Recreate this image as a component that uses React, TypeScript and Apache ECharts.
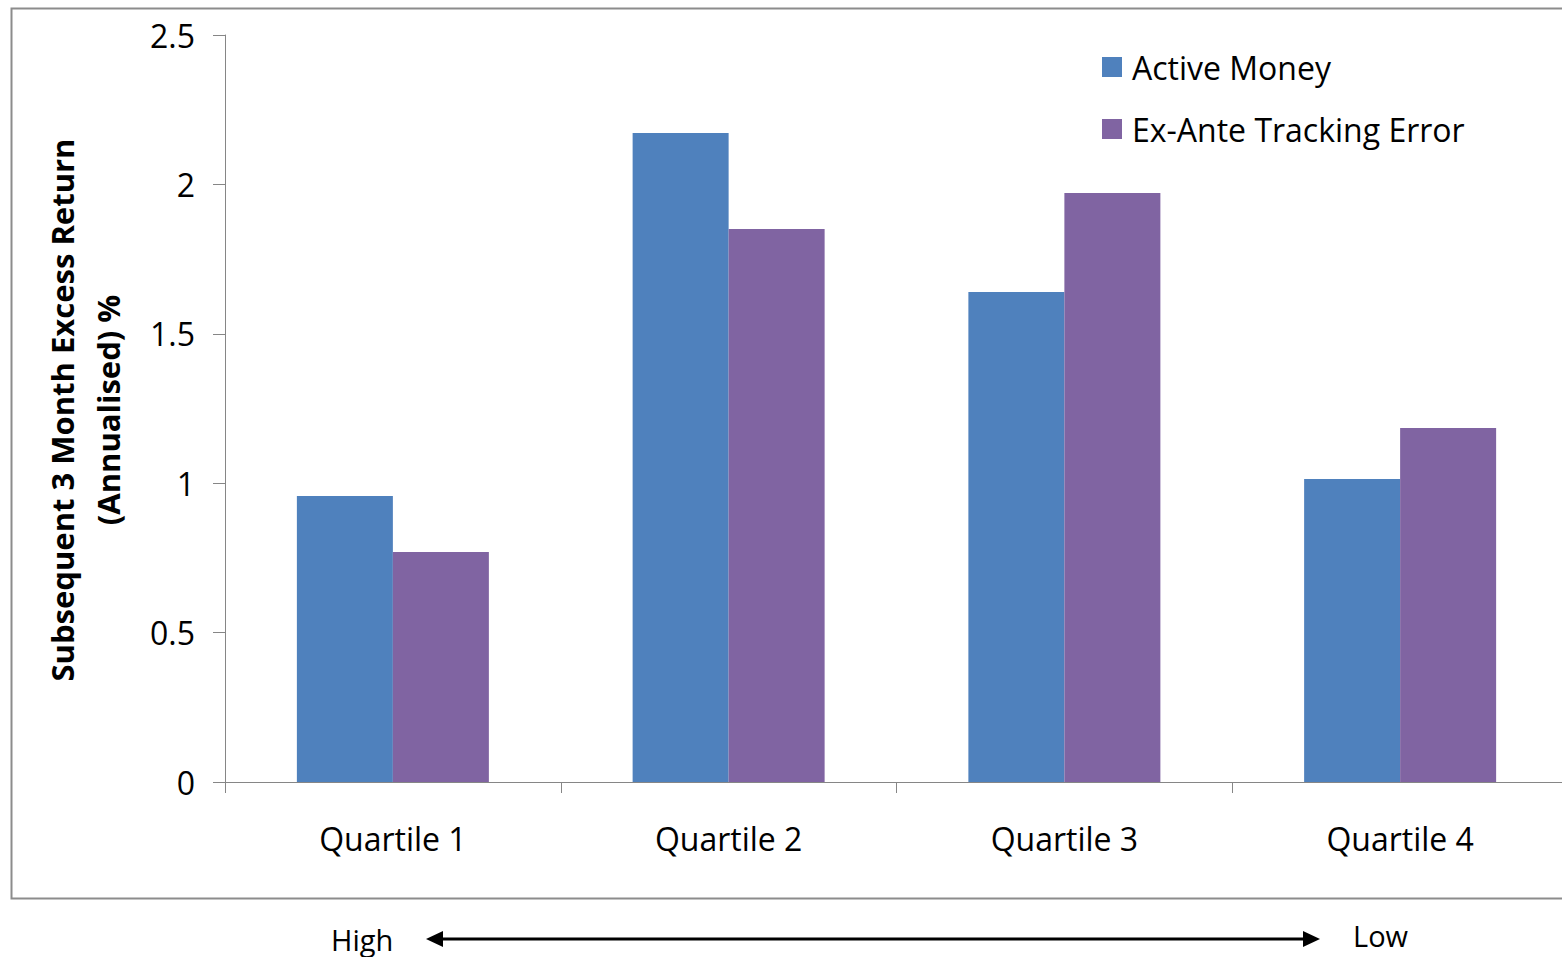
import React, { useEffect, useRef } from "react";
import * as echarts from "echarts";

const categories = ["Quartile 1", "Quartile 2", "Quartile 3", "Quartile 4"];
const activeMoney = [0.957, 2.172, 1.64, 1.014];
const exAnteTE = [0.77, 1.851, 1.971, 1.185];
const seriesNames = ["Active Money", "Ex-Ante Tracking Error"];
const yTitleLines = ["Subsequent 3 Month Excess Return", "(Annualised) %"];
const scaleLabels = ["High", "Low"];

const FONT = "'Open Sans', sans-serif";

export default function App() {
  const ref = useRef<HTMLDivElement>(null);
  useEffect(() => {
    if (!ref.current) return;
    const chart = echarts.init(ref.current, null, { renderer: "svg" });
    chart.setOption({
      animation: false,
      backgroundColor: "#ffffff",
      textStyle: { fontFamily: FONT },
      grid: { left: 225, top: 35, width: 1343, height: 747, containLabel: false },
      legend: {
        orient: "vertical",
        left: 1102,
        top: 51,
        padding: 0,
        itemWidth: 20,
        itemHeight: 20,
        itemGap: 30,
        icon: "rect",
        textStyle: { fontSize: 32, color: "#000", fontFamily: FONT, padding: [0, 0, 0, 5] },
        data: seriesNames,
      },
      xAxis: {
        type: "category",
        data: categories,
        boundaryGap: true,
        axisLine: { lineStyle: { color: "#868686", width: 1 } },
        axisTick: { show: true, length: 11, alignWithLabel: false, lineStyle: { color: "#868686" } },
        axisLabel: { color: "#000", fontSize: 32, margin: 40, fontFamily: FONT },
        splitLine: { show: false },
      },
      yAxis: {
        type: "value",
        min: 0,
        max: 2.5,
        interval: 0.5,
        axisLine: { show: true, lineStyle: { color: "#868686", width: 1 } },
        axisTick: { show: true, length: 12, inside: false, lineStyle: { color: "#868686" } },
        axisLabel: { color: "#000", fontSize: 32, margin: 30, fontFamily: FONT },
        splitLine: { show: false },
      },
      series: [
        {
          name: seriesNames[0],
          type: "bar",
          data: activeMoney,
          barWidth: 96,
          barGap: "0%",
          itemStyle: { color: "#4F81BD" },
        },
        {
          name: seriesNames[1],
          type: "bar",
          data: exAnteTE,
          barWidth: 96,
          barGap: "0%",
          itemStyle: { color: "#8064A2" },
        },
      ],
      graphic: [
        {
          type: "rect",
          silent: true,
          z: -10,
          shape: { x: 11.5, y: 8.5, width: 1600, height: 890 },
          style: { fill: "none", stroke: "#8c8c8c", lineWidth: 2 },
        },
        {
          type: "text",
          x: 85,
          y: 410,
          rotation: Math.PI / 2,
          style: {
            text: yTitleLines.join("\n"),
            font: `bold 31px ${FONT}`,
            fill: "#000",
            align: "center",
            verticalAlign: "middle",
            lineHeight: 46,
          },
        },
        {
          type: "line",
          shape: { x1: 438, y1: 939, x2: 1308, y2: 939 },
          style: { stroke: "#000", lineWidth: 3 },
        },
        {
          type: "polygon",
          shape: { points: [[426, 939], [443, 931], [443, 947]] },
          style: { fill: "#000" },
        },
        {
          type: "polygon",
          shape: { points: [[1320, 939], [1303, 931], [1303, 947]] },
          style: { fill: "#000" },
        },
        {
          type: "text",
          x: 331,
          y: 939,
          style: { text: scaleLabels[0], font: `29px ${FONT}`, fill: "#000", align: "left", verticalAlign: "middle" },
        },
        {
          type: "text",
          x: 1353,
          y: 935,
          style: { text: scaleLabels[1], font: `29px ${FONT}`, fill: "#000", align: "left", verticalAlign: "middle" },
        },
      ],
    });
    return () => chart.dispose();
  }, []);
  return (
    <div style={{ position: "absolute", left: 0, top: 0, width: 1562, height: 957, overflow: "hidden" }}>
      <div ref={ref} style={{ position: "absolute", left: 0, top: 0, width: 1580, height: 957 }} />
    </div>
  );
}
